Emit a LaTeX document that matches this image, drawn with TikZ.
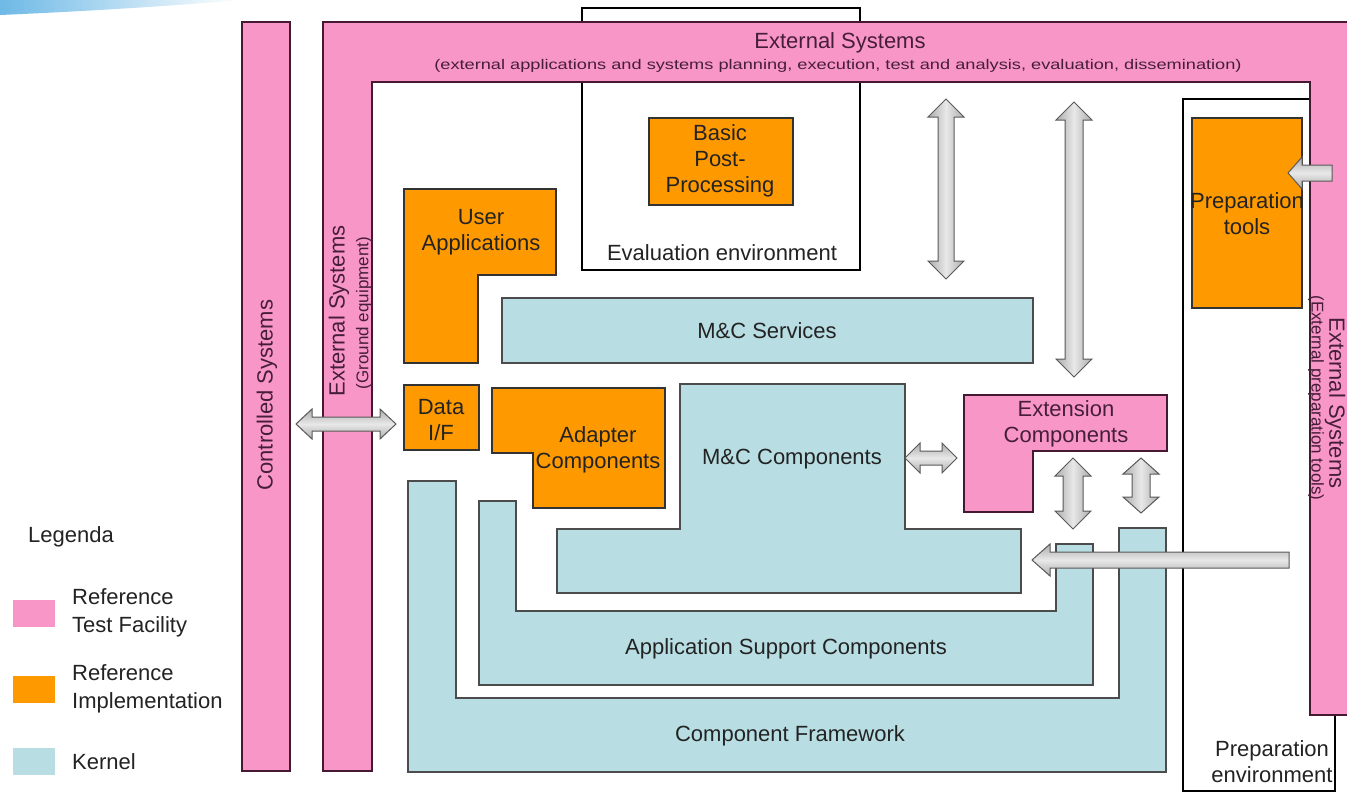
\documentclass[tikz,border=0pt]{standalone}
\usepackage{fontspec}
\usepackage{graphicx}
\setmainfont{Liberation Sans}
\usetikzlibrary{calc}

\definecolor{rtf}{RGB}{249,150,200}
\definecolor{rtfedge}{RGB}{70,25,50}
\definecolor{rimpl}{RGB}{255,153,0}
\definecolor{kern}{RGB}{184,222,227}
\definecolor{ink}{RGB}{35,35,35}
\definecolor{rtfink}{RGB}{70,30,60}
\definecolor{swoosh}{RGB}{110,185,230}

\tikzset{
  rtfshape/.style={fill=rtf, draw=rtfedge, line width=1.3pt, line join=miter},
  implshape/.style={fill=rimpl, draw=black!80, line width=1.3pt},
  kernshape/.style={fill=kern, draw=black!70, line width=1.3pt},
  envbox/.style={fill=white, draw=black, line width=2.4pt},
  lbl/.style={font=\fontsize{22}{26}\selectfont, align=center, text=ink, inner sep=0pt},
  smalllbl/.style={font=\fontsize{17}{20}\selectfont, align=center, text=rtfink, inner sep=0pt},
  legendlbl/.style={font=\fontsize{22}{28}\selectfont, align=left, text=ink, inner sep=0pt, anchor=west},
  arrowlook/.style={draw=black!65, line width=1pt, line join=miter},
  hshade/.style={top color=gray!65, bottom color=gray!65, middle color=gray!18},
  vshade/.style={left color=gray!65, right color=gray!65, middle color=gray!18},
  % block arrow with a head at both ends: #1 head length, #2 head half width, #3 shaft half width
  dblarrow/.style n args={3}{arrowlook, to path={
    (\tikztostart)
    -- ($(\tikztostart)!#1!(\tikztotarget)!#2!90:(\tikztotarget)$)
    -- ($(\tikztostart)!#1!(\tikztotarget)!#3!90:(\tikztotarget)$)
    -- ($(\tikztotarget)!#1!(\tikztostart)!#3!-90:(\tikztostart)$)
    -- ($(\tikztotarget)!#1!(\tikztostart)!#2!-90:(\tikztostart)$)
    -- (\tikztotarget)
    -- ($(\tikztotarget)!#1!(\tikztostart)!#2!90:(\tikztostart)$)
    -- ($(\tikztotarget)!#1!(\tikztostart)!#3!90:(\tikztostart)$)
    -- ($(\tikztostart)!#1!(\tikztotarget)!#3!-90:(\tikztotarget)$)
    -- ($(\tikztostart)!#1!(\tikztotarget)!#2!-90:(\tikztotarget)$)
    -- cycle}},
  % block arrow with a single head at the target end
  sglarrow/.style n args={3}{arrowlook, to path={
    ($(\tikztostart)!#3!90:(\tikztotarget)$)
    -- ($(\tikztotarget)!#1!(\tikztostart)!#3!-90:(\tikztostart)$)
    -- ($(\tikztotarget)!#1!(\tikztostart)!#2!-90:(\tikztostart)$)
    -- (\tikztotarget)
    -- ($(\tikztotarget)!#1!(\tikztostart)!#2!90:(\tikztostart)$)
    -- ($(\tikztotarget)!#1!(\tikztostart)!#3!90:(\tikztostart)$)
    -- ($(\tikztostart)!#3!-90:(\tikztotarget)$)
    -- cycle}},
}

\begin{document}
\begin{tikzpicture}[x=1pt, y=-1pt]
\clip (0,0) rectangle (1347,792);
\fill[white] (0,0) rectangle (1347,792);

% slide header swoosh
\shade[left color=swoosh, right color=white] (0,0) -- (240,0) .. controls (160,7) and (70,12) .. (0,15) -- cycle;

% environments (drawn first, the pink bands overlap them)
\draw[envbox] (582,8) rectangle (860,270);
\node[lbl] (evalenv) at (722,253) {Evaluation environment};
\draw[envbox] (1183,99) rectangle (1335,791);
\node[lbl] (prepenv) at (1272,762) {Preparation\\environment};

% reference test facility
\draw[rtfshape] (242,22) rectangle (290,771);
\node[lbl, rotate=90, text=rtfink] (ctrl) at (267,395) {Controlled Systems};

\draw[rtfshape] (323,22) -- (1360,22) -- (1360,715) -- (1310,715) -- (1310,82)
  -- (372,82) -- (372,771) -- (323,771) -- cycle;
\node[lbl, text=rtfink] (ext) at (840,43) {External Systems};
\node[font=\fontsize{14}{16}\selectfont, text=rtfink, inner sep=0pt] (extsub) at (838,66)
  {\scalebox{1.3}[1]{(external applications and systems  planning, execution, test  and analysis, evaluation, dissemination)}};
\node[lbl, rotate=90, text=rtfink] (extg) at (339,311) {External Systems};
\node[smalllbl, rotate=90] (extgsub) at (364,313) {(Ground equipment)};
\node[lbl, rotate=-90, text=rtfink] (extp) at (1335,403) {External Systems};
\node[smalllbl, rotate=-90] (extpsub) at (1316,398) {(External preparation tools)};

\draw[rtfshape] (964,395) -- (1167,395) -- (1167,451) -- (1033,451) -- (1033,512) -- (964,512) -- cycle;
\node[lbl, text=rtfink] (extcomp) at (1066,424) {Extension\\Components};

% reference implementation
\draw[implshape] (649,118) rectangle (793,205);
\node[lbl] (bpp) at (720,161) {Basic\\Post-\\Processing};
\draw[implshape] (404,189) -- (556,189) -- (556,275) -- (478,275) -- (478,363) -- (404,363) -- cycle;
\node[lbl] (userapp) at (481,232) {User\\Applications};
\draw[implshape] (404,385) rectangle (479,450);
\node[lbl] (dataif) at (441,420) {Data\\I/F};
\draw[implshape] (492,388) -- (665,388) -- (665,508) -- (533,508) -- (533,453) -- (492,453) -- cycle;
\node[lbl] (adapter) at (598,450) {Adapter\\Components};
\draw[implshape] (1192,118) rectangle (1302,308);
\node[lbl] (preptools) at (1247,214) {Preparation\\tools};

% kernel
\draw[kernshape] (408,481) -- (456,481) -- (456,698) -- (1119,698) -- (1119,528) -- (1166,528)
  -- (1166,772) -- (408,772) -- cycle;
\node[lbl] (cf) at (790,736) {Component Framework};
\draw[kernshape] (479,501) -- (516,501) -- (516,611) -- (1056,611) -- (1056,544) -- (1093,544)
  -- (1093,685) -- (479,685) -- cycle;
\node[lbl] (asc) at (786,649) {Application Support Components};
\draw[kernshape] (680,384) -- (905,384) -- (905,529) -- (1021,529) -- (1021,593) -- (557,593)
  -- (557,529) -- (680,529) -- cycle;
\node[lbl] (mcc) at (792,459) {M\&C Components};
\draw[kernshape] (502,298) rectangle (1033,363);
\node[lbl] (mcs) at (767,331) {M\&C Services};

% arrow end points
\coordinate (ctrlR) at (296,424);
\coordinate (dataL) at (396,424);
\coordinate (mccR) at (905,458);
\coordinate (extcL) at (957,458);
\coordinate (extT1) at (946,99);
\coordinate (mcsT) at (946,279);
\coordinate (extT2) at (1074,102);
\coordinate (extcT) at (1074,377);
\coordinate (extcB1) at (1073,458);
\coordinate (ascT) at (1073,529);
\coordinate (extcB2) at (1141,458);
\coordinate (cfT) at (1141,513);
\coordinate (prepsrc) at (1289,560);
\coordinate (mccE) at (1032,560);
\coordinate (extpL) at (1332,173);
\coordinate (preptR) at (1288,173);

% block arrows
\draw[dblarrow={16pt}{15pt}{7pt}, hshade] (ctrlR) to (dataL);
\draw[dblarrow={15pt}{15pt}{7pt}, hshade] (mccR) to (extcL);
\draw[dblarrow={18pt}{18pt}{8pt}, vshade] (extT1) to (mcsT);
\draw[dblarrow={18pt}{18pt}{9pt}, vshade] (extT2) to (extcT);
\draw[dblarrow={18pt}{18pt}{10pt}, vshade] (extcB1) to (ascT);
\draw[dblarrow={16pt}{18pt}{9pt}, vshade] (extcB2) to (cfT);
\draw[sglarrow={18pt}{16pt}{8pt}, hshade] (prepsrc) to (mccE);
\draw[sglarrow={14pt}{16pt}{8pt}, hshade] (extpL) to (preptR);

% legend
\node[legendlbl] (legtitle) at (28,537) {Legenda};
\fill[rtf] (13,600) rectangle (55,627);
\node[legendlbl] (legrtf) at (72,613) {Reference\\Test Facility};
\fill[rimpl] (13,676) rectangle (55,703);
\node[legendlbl] (legimpl) at (72,689) {Reference\\Implementation};
\fill[kern] (13,748) rectangle (55,775);
\node[legendlbl] (legkern) at (72,762) {Kernel};
\end{tikzpicture}
\end{document}
